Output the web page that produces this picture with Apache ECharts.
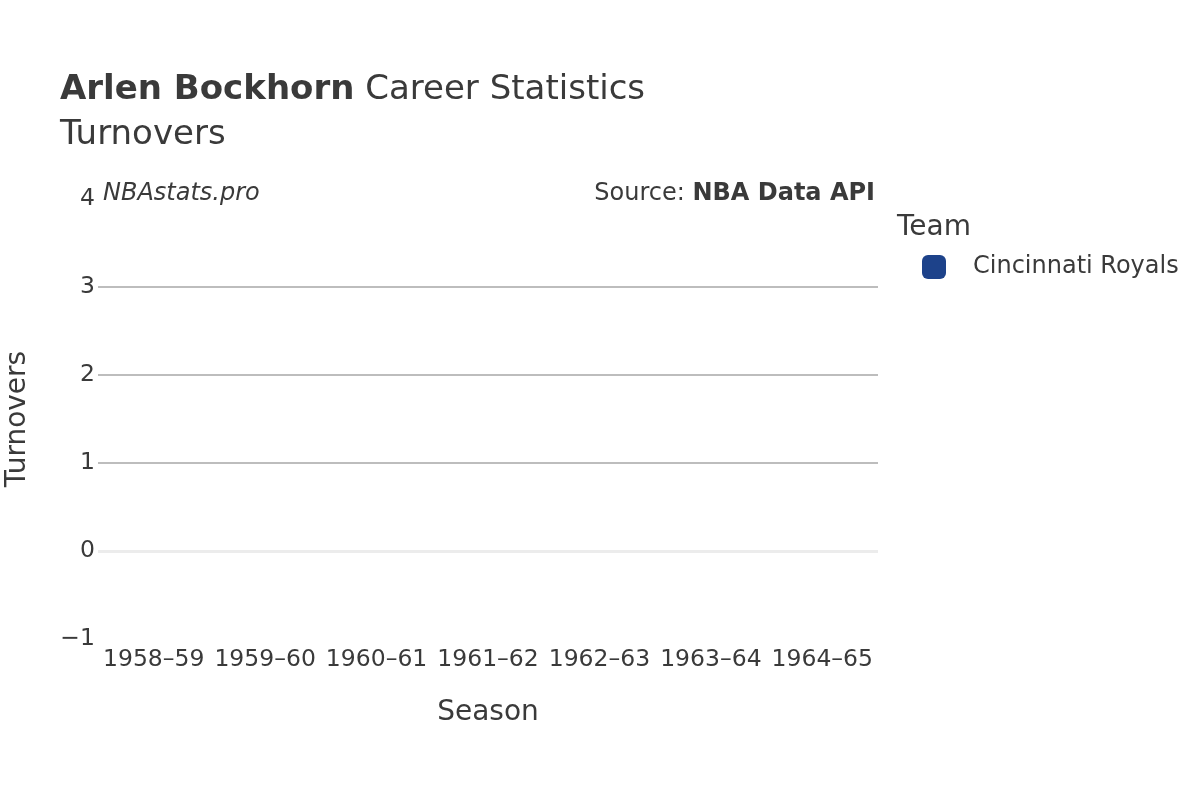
<!DOCTYPE html>
<html>
<head>
<meta charset="utf-8">
<script src="https://cdn.jsdelivr.net/npm/echarts@6/dist/echarts.min.js"></script>
<style>
    html, body { margin: 0; padding: 0; background: #fff; }
    #chart { width: 1200px; height: 800px; }
</style>
</head>
<body>
<div id="chart"></div>
<script>
// 赛季
var seasons = ['1958–59', '1959–60', '1960–61', '1961–62', '1962–63', '1963–64', '1964–65'];
// 失误数据（原图没有记录，全部为空）
var turnovers = [null, null, null, null, null, null, null];
var teamName = 'Cincinnati Royals';
var yTicks = [-1, 0, 1, 2, 3, 4];

(function(){
    var box = document.getElementById('chart')
    var myChart = echarts.init(box)
    var font = 'DejaVu Sans'
    var option = {
        backgroundColor: '#fff',
        textStyle: { fontFamily: font },
        title: [
            {
                left: 55,
                top: 68,
                text: '{b|Arlen Bockhorn} Career Statistics',
                textStyle: {
                    fontFamily: font,
                    fontSize: 34,
                    fontWeight: 'normal',
                    color: '#3a3a3a',
                    rich: {
                        b: { fontFamily: font, fontSize: 34, fontWeight: 'bold', color: '#3a3a3a' }
                    }
                }
            },
            {
                left: 55,
                top: 113,
                text: 'Turnovers',
                textStyle: { fontFamily: font, fontSize: 34, fontWeight: 'normal', color: '#3a3a3a' }
            },
            {
                left: 98,
                top: 177,
                text: 'NBAstats.pro',
                textStyle: { fontFamily: font, fontSize: 24, fontStyle: 'italic', fontWeight: 'normal', color: '#3a3a3a' }
            },
            {
                right: 320,
                top: 177,
                text: 'Source: {b|NBA Data API}',
                textStyle: {
                    fontFamily: font, fontSize: 24, fontWeight: 'normal', color: '#3a3a3a',
                    rich: { b: { fontFamily: font, fontSize: 24, fontWeight: 'bold', color: '#3a3a3a' } }
                }
            },
            {
                left: 892,
                top: 209,
                text: 'Team',
                textStyle: { fontFamily: font, fontSize: 28, fontWeight: 'normal', color: '#3a3a3a' }
            }
        ],
        legend: {
            left: 917,
            top: 250,
            itemWidth: 24,
            itemHeight: 24,
            itemGap: 10,
            icon: 'roundRect',
            textStyle: { fontFamily: font, fontSize: 24, color: '#3a3a3a', padding: [2, 0, 0, 22] },
            data: [{ name: teamName, icon: 'roundRect' }]
        },
        grid: {
            left: 98,
            right: 322,
            top: 199,
            bottom: 161,
            outerBoundsMode: 'none'
        },
        xAxis: {
            type: 'category',
            data: seasons,
            name: 'Season',
            nameLocation: 'middle',
            nameGap: 60,
            nameTextStyle: { fontFamily: font, fontSize: 28, color: '#3a3a3a' },
            axisLine: { show: false },
            axisTick: { show: false },
            axisLabel: { fontFamily: font, fontSize: 23.5, color: '#3a3a3a', margin: 9, interval: 0 }
        },
        yAxis: {
            type: 'value',
            min: yTicks[0],
            max: yTicks[yTicks.length - 1],
            interval: 1,
            name: 'Turnovers',
            nameLocation: 'middle',
            nameGap: 66,
            nameTextStyle: { fontFamily: font, fontSize: 28, color: '#3a3a3a' },
            axisLine: { show: false },
            axisTick: { show: false },
            axisLabel: {
                fontFamily: font, fontSize: 23.5, color: '#3a3a3a', margin: 3,
                padding: [4, 0, 0, 0],
                formatter: function (v) { return v < 0 ? '\u2212' + Math.abs(v) : String(v) }
            },
            splitLine: {
                lineStyle: {
                    // -1、0、4 处不画网格线（0 用 markLine 单独画）
                    color: ['rgba(0,0,0,0)', 'rgba(0,0,0,0)', '#bdbdbd', '#bdbdbd', '#bdbdbd', 'rgba(0,0,0,0)'],
                    width: 2
                }
            }
        },
        series: [
            {
                name: teamName,
                type: 'bar',
                data: turnovers,
                itemStyle: { color: '#1d428a' },
                markLine: {
                    silent: true,
                    symbol: 'none',
                    label: { show: false },
                    lineStyle: { color: '#ececec', width: 3, type: 'solid' },
                    data: [{ yAxis: 0 }]
                }
            }
        ]
    }
    myChart.setOption(option)
})();
</script>
</body>
</html>
